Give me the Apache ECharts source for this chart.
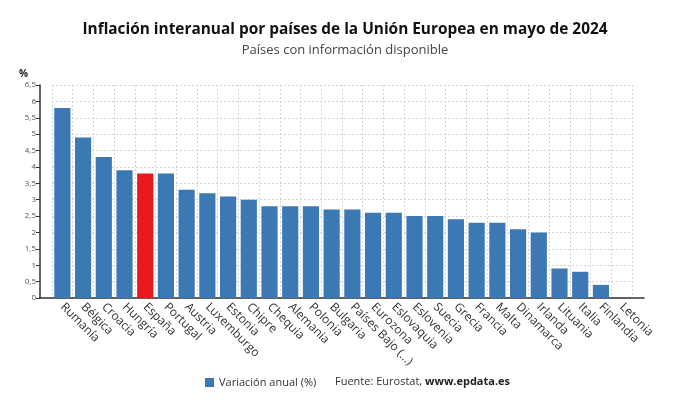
<!DOCTYPE html>
<html>
<head>
<meta charset="utf-8">
<script src="https://cdn.jsdelivr.net/npm/echarts@6/dist/echarts.min.js"></script>
<style>html,body{margin:0;padding:0;background:#fff}#c{width:690px;height:405px}</style>
</head>
<body>
<div id="c"></div>
<script>
var categories = ["Rumanía","Bélgica","Croacia","Hungría","España","Portugal","Austria","Luxemburgo","Estonia","Chipre","Chequia","Alemania","Polonia","Bulgaria","Países Bajo (...)","Eurozona","Eslovaquia","Eslovenia","Suecia","Grecia","Francia","Malta","Dinamarca","Irlanda","Lituania","Italia","Finlandia","Letonia"];
var values = [5.8,4.9,4.3,3.9,3.8,3.8,3.3,3.2,3.1,3.0,2.8,2.8,2.8,2.7,2.7,2.6,2.6,2.5,2.5,2.4,2.3,2.3,2.1,2.0,0.9,0.8,0.4,0.0];
var highlighted = ["España"];
var seriesName = "Variación anual (%)";
var titleText = "Inflación interanual por países de la Unión Europea en mayo de 2024";
var subtitleText = "Países con información disponible";

var blue = "#3b78b4", red = "#e8191f";
var font = "'Open Sans', 'Noto Sans', sans-serif";
var chart = echarts.init(document.getElementById('c'), null, {renderer: 'canvas'});
chart.setOption({
  animation: false,
  textStyle: {fontFamily: font},
  title: [
    {text: titleText, left: 'center', top: 17, textStyle: {fontSize: 15.4, fontWeight: 'bold', color: '#111', fontFamily: font}},
    {text: subtitleText, left: 'center', top: 39, textStyle: {fontSize: 13, fontWeight: 'normal', color: '#444', fontFamily: font}},
    {text: '%', left: 14, top: 64, textStyle: {fontSize: 10, fontWeight: 'bold', color: '#222', fontFamily: font}},
    {text: '{n|Fuente: Eurostat, }{b|www.epdata.es}', left: 330, top: 371,
     textStyle: {fontWeight: 'normal', rich: {n: {fontSize: 11, color: '#333', fontWeight: 'normal', fontFamily: font}, b: {fontSize: 11, color: '#222', fontWeight: 'bold', fontFamily: font}}}}
  ],
  legend: {
    data: [seriesName], left: 200, top: 372, icon: 'rect', itemWidth: 9, itemHeight: 9, itemGap: 5,
    textStyle: {fontSize: 11, color: '#333', fontFamily: font}
  },
  grid: [
    {left: 52, right: 58, top: 85, bottom: 107},
    {left: 40, right: 46, top: 85, bottom: 107}
  ],
  xAxis: [
    {
      type: 'category', data: categories, gridIndex: 0,
      axisLine: {show: false},
      axisTick: {show: false},
      splitLine: {show: true, interval: 0, lineStyle: {color: '#d4d4dc', type: [2, 2], width: 1}},
      axisLabel: {interval: 0, rotate: -45, fontSize: 12, color: '#333', margin: 7, fontFamily: font}
    },
    {
      type: 'value', gridIndex: 1, min: 0, max: 1,
      axisLine: {show: true, lineStyle: {color: '#333', width: 1.5}},
      axisTick: {show: false}, axisLabel: {show: false}, splitLine: {show: false}
    }
  ],
  yAxis: [
    {
      type: 'value', gridIndex: 0, min: 0, max: 6.5, interval: 0.5, offset: 12,
      axisLine: {show: true, lineStyle: {color: '#333', width: 1.5}},
      axisTick: {show: true, length: 4, lineStyle: {color: '#333'}},
      splitLine: {show: true, lineStyle: {color: '#d4d4dc', type: [2, 2], width: 1}},
      axisLabel: {fontSize: 8, color: '#555', margin: 4, fontFamily: font,
        formatter: function (v) { return String(v).replace('.', ','); }}
    },
    {type: 'value', gridIndex: 1, show: false, min: 0, max: 1}
  ],
  series: [{
    name: seriesName, type: 'bar', xAxisIndex: 0, yAxisIndex: 0,
    barCategoryGap: '22%',
    itemStyle: {color: blue},
    data: values.map(function (v, i) {
      return highlighted.indexOf(categories[i]) >= 0 ? {value: v, itemStyle: {color: red}} : v;
    })
  }]
});
</script>
</body>
</html>
